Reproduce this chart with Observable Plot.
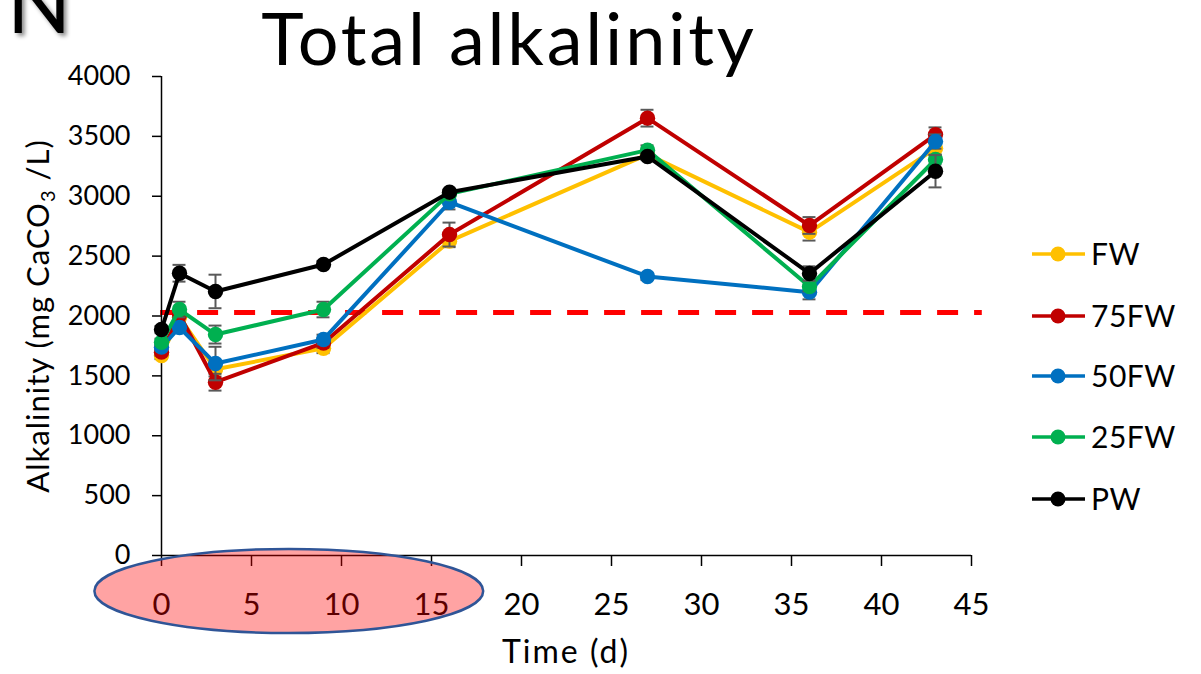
<!DOCTYPE html>
<html><head><meta charset="utf-8">
<script src="https://cdn.jsdelivr.net/npm/d3@7"></script>
<script src="https://cdn.jsdelivr.net/npm/@observablehq/plot@0.6"></script>
<style>
body{margin:0;background:#fff;}
#chart{position:relative;width:1201px;height:674px;overflow:hidden;}
#chart svg{font-family:Lato,"Open Sans",sans-serif;}
</style>
</head><body><div id="chart"></div>
<script>
// ---- data ----
const days = [0, 1, 3, 9, 16, 27, 36, 43];
const seriesNames = ["FW", "75FW", "50FW", "25FW", "PW"];
const seriesColors = ["#FFC000", "#C00000", "#0070C0", "#00B050", "#000000"];
const valuesFW   = [1670, 1990, 1555, 1730, 2625, 3350, 2700, 3400];
const values75FW = [1698, 2010, 1447, 1775, 2680, 3652, 2756, 3515];
const values50FW = [1740, 1904, 1603, 1804, 2950, 2330, 2199, 3457];
const values25FW = [1781, 2054, 1845, 2054, 3020, 3385, 2246, 3307];
const valuesPW   = [1887, 2357, 2205, 2430, 3034, 3332, 2355, 3209];
const errFW   = [30, 40, 60, 40, 50, 40, 70, 50];
const err75FW = [30, 40, 70, 40, 100, 70, 70, 60];
const err50FW = [30, 40, 140, 40, 60, 30, 60, 60];
const err25FW = [30, 65, 75, 65, 30, 40, 40, 40];
const errPW   = [30, 70, 140, 30, 20, 30, 60, 135];
const xTicks = [0, 5, 10, 15, 20, 25, 30, 35, 40, 45];
const yTicks = [0, 500, 1000, 1500, 2000, 2500, 3000, 3500, 4000];
const threshold = 2030;
const thresholdFrom = -0.05, thresholdTo = 45.6;
const ellipseFromDay = -3.7, ellipseToDay = 17.9;
const titleText = "Total alkalinity";
const yLabelParts = ["Alkalinity (mg CaCO", "3", " /L)"];
const xLabelText = "Time (d)";

const allValues = [valuesFW, values75FW, values50FW, values25FW, valuesPW];
const allErrs = [errFW, err75FW, err50FW, err25FW, errPW];
const rows = [];
seriesNames.forEach((s, i) => days.forEach((d, j) =>
  rows.push({series: s, day: d, value: allValues[i][j], err: allErrs[i][j]})));

const capHalf = 0.36;
const errColor = "#595959";
const marks = [
  Plot.ruleY([threshold], {x1: thresholdFrom, x2: thresholdTo, stroke: "#FF0000", strokeWidth: 5, strokeDasharray: "21,16"}),
  Plot.axisY({ticks: yTicks, tickFormat: d3.format("d"), tickSize: 9, tickPadding: 22, fontSize: 27, label: null, strokeWidth: 1.5}),
  Plot.axisX({ticks: xTicks, tickFormat: d3.format("d"), tickSize: 11, tickPadding: 26, fontSize: 31, label: null, strokeWidth: 1.5}),
  Plot.ruleX([0], {stroke: "#000", strokeWidth: 1.5}),
  Plot.ruleY([0], {stroke: "#000", strokeWidth: 1.5})
];
seriesNames.forEach((s, i) => {
  const data = rows.filter(r => r.series === s);
  const c = seriesColors[i];
  marks.push(
    Plot.ruleX(data, {x: "day", y1: d => d.value - d.err, y2: d => d.value + d.err, stroke: errColor, strokeWidth: 2}),
    Plot.ruleY(data, {y: d => d.value + d.err, x1: d => d.day - capHalf, x2: d => d.day + capHalf, stroke: errColor, strokeWidth: 2}),
    Plot.ruleY(data, {y: d => d.value - d.err, x1: d => d.day - capHalf, x2: d => d.day + capHalf, stroke: errColor, strokeWidth: 2}),
    Plot.line(data, {x: "day", y: "value", stroke: c, strokeWidth: 4}),
    Plot.dot(data, {x: "day", y: "value", r: 7.7, fill: c, stroke: "none"})
  );
});

const plot = Plot.plot({
  width: 1201, height: 674,
  marginLeft: 161, marginRight: 230, marginTop: 76, marginBottom: 119,
  x: {domain: [0, 45]},
  y: {domain: [0, 4000]},
  style: {fontFamily: "Lato, 'Open Sans', sans-serif", color: "#000", background: "#fff", overflow: "visible"},
  marks
});
document.getElementById("chart").appendChild(plot);

const svg = d3.select(plot);
const xs = plot.scale("x"), ys = plot.scale("y");

// drop shadow filter
const defs = svg.append("defs");
const f = defs.append("filter").attr("id", "sh").attr("x", "-20%").attr("y", "-20%").attr("width", "150%").attr("height", "150%");
f.append("feDropShadow").attr("dx", 3).attr("dy", 3).attr("stdDeviation", 2).attr("flood-color", "#000").attr("flood-opacity", 0.45);

// partial slide heading letter (cut by the top edge, as in the source slide)
svg.append("text").attr("x", 7).attr("y", 33).attr("text-anchor", "start").attr("font-size", 84).attr("fill", "#000")
  .attr("filter", "url(#sh)").text("N");

// title
svg.append("text").attr("x", 509).attr("y", 65).attr("text-anchor", "middle")
  .attr("font-size", 72).attr("letter-spacing", 2.8).attr("fill", "#000").text(titleText);

// y label
const yl = svg.append("text").attr("transform", "translate(49,316) rotate(-90)")
  .attr("text-anchor", "middle").attr("font-size", 31).attr("letter-spacing", 1).attr("fill", "#000");
yl.append("tspan").text(yLabelParts[0]);
yl.append("tspan").attr("font-size", 20).attr("dy", 6).text(yLabelParts[1]);
yl.append("tspan").attr("dy", -6).text(yLabelParts[2]);

// x label
svg.append("text").attr("x", 566).attr("y", 663).attr("text-anchor", "middle")
  .attr("font-size", 32).attr("letter-spacing", 2).attr("fill", "#000").text(xLabelText);

// legend
const legendRowsY = [254, 316, 376, 437, 499];
seriesNames.forEach((s, i) => {
  const g = svg.append("g").attr("transform", `translate(0,${legendRowsY[i]})`);
  g.append("line").attr("x1", 1032).attr("x2", 1085).attr("stroke", seriesColors[i]).attr("stroke-width", 3.5);
  g.append("circle").attr("cx", 1058).attr("r", 7.5).attr("fill", seriesColors[i]);
  g.append("text").attr("x", 1091).attr("dy", "0.36em").attr("text-anchor", "start")
    .attr("font-size", 30).attr("letter-spacing", 0.5).attr("fill", "#000").text(s);
});

// highlight ellipse over the early-days ticks
const ex1 = xs.apply(ellipseFromDay), ex2 = xs.apply(ellipseToDay);
svg.append("ellipse").attr("cx", (ex1 + ex2) / 2).attr("cy", ys.apply(0) + 36)
  .attr("rx", (ex2 - ex1) / 2).attr("ry", 42)
  .attr("fill", "rgba(255,0,0,0.36)").attr("stroke", "#2F5597").attr("stroke-width", 2.5);
</script>
</body></html>
